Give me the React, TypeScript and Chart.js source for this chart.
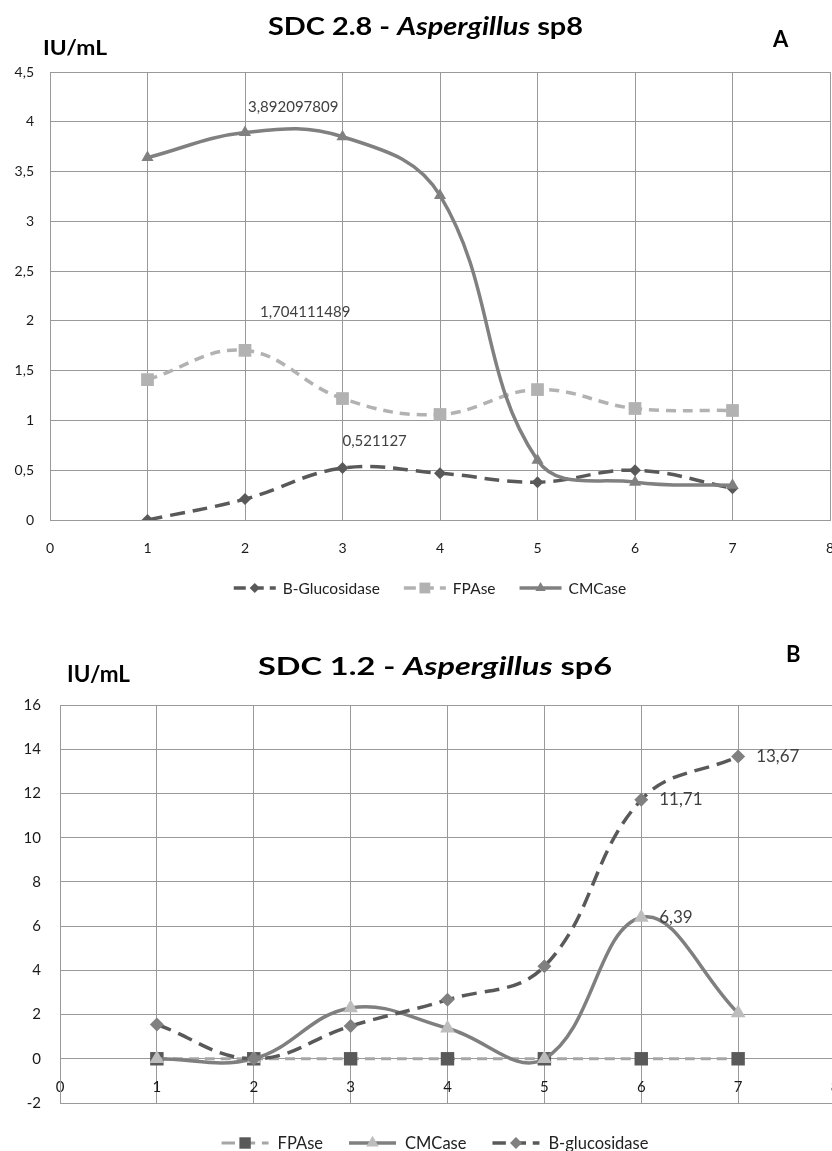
import React, { useEffect, useRef } from 'react';
import { Chart, registerables } from 'chart.js';
import { drawPoint } from 'chart.js/helpers';

Chart.register(...registerables);

const FONT = 'Lato, "Open Sans", sans-serif';

// ---------- Data: chart A (SDC 2.8 - Aspergillus sp8) ----------
const daysA = [1, 2, 3, 4, 5, 6, 7];
const bGlucosidaseA = [0, 0.21, 0.521127, 0.47, 0.38, 0.5, 0.32];
const fpaseA = [1.41, 1.704111489, 1.22, 1.06, 1.31, 1.12, 1.1];
const cmcaseA = [3.64, 3.892097809, 3.85, 3.26, 0.6, 0.38, 0.35];

// ---------- Data: chart B (SDC 1.2 - Aspergillus sp6) ----------
const daysB = [1, 2, 3, 4, 5, 6, 7];
const fpaseB = [0, 0, 0, 0, 0, 0, 0];
const cmcaseB = [0, 0, 2.3, 1.38, 0, 6.39, 2.07];
const bGlucosidaseB = [1.55, 0, 1.48, 2.67, 4.18, 11.71, 13.67];

const fmt = (v: number) => String(v).replace('.', ',');

type Series = {
  label: string;
  values: number[];
  color: string;
  pointColor: string;
  width: number;
  dash: number[];
  pointStyle: string;
  radius: number;
};

type Seg = { text: string; italic?: boolean };
type TextItem = { segs: Seg[]; x: number; y: number; size: number; align: 'left' | 'center'; w?: number };
type LabelSpec = { ds: number; idx: number; dx: number; dy: number };

type ChartSpec = {
  width: number;
  height: number;
  top: number;
  days: number[];
  series: Series[];
  xMin: number;
  xMax: number;
  yMin: number;
  yMax: number;
  yStep: number;
  padding: { top: number; right: number; bottom: number; left: number };
  yWidth: number;
  xHeight: number;
  xAtZero: boolean;
  tickSize: number;
  yPad: number;
  xPad: number;
  texts: TextItem[];
  legend: { cx: number; y: number; size: number; symW: number; gap: number; itemGap: number };
  labels: LabelSpec[];
  labelSize: number;
};

const seriesA: Series[] = [
  { label: 'B-Glucosidase', values: bGlucosidaseA, color: '#595959', pointColor: '#595959', width: 3.5, dash: [15, 8], pointStyle: 'rectRot', radius: 6 },
  { label: 'FPAse', values: fpaseA, color: '#b2b2b2', pointColor: '#b2b2b2', width: 3.5, dash: [10, 7], pointStyle: 'rect', radius: 9 },
  { label: 'CMCase', values: cmcaseA, color: '#808080', pointColor: '#808080', width: 3.5, dash: [], pointStyle: 'triangle', radius: 7 },
];

const seriesB: Series[] = [
  { label: 'FPAse', values: fpaseB, color: '#a6a6a6', pointColor: '#595959', width: 3, dash: [10, 6], pointStyle: 'rect', radius: 9.5 },
  { label: 'CMCase', values: cmcaseB, color: '#7f7f7f', pointColor: '#bdbdbd', width: 3.5, dash: [], pointStyle: 'triangle', radius: 8.5 },
  { label: 'B-glucosidase', values: bGlucosidaseB, color: '#595959', pointColor: '#808080', width: 3.5, dash: [15, 8], pointStyle: 'rectRot', radius: 7 },
];

const specA: ChartSpec = {
  width: 832,
  height: 610,
  top: 0,
  days: daysA,
  series: seriesA,
  xMin: 0,
  xMax: 8,
  yMin: 0,
  yMax: 4.5,
  yStep: 0.5,
  padding: { top: 72, right: 2, bottom: 50, left: 0 },
  yWidth: 50,
  xHeight: 40,
  xAtZero: false,
  tickSize: 14,
  yPad: 16,
  xPad: 20,
  texts: [
    { segs: [{ text: 'SDC 2.8 - ' }, { text: 'Aspergillus', italic: true }, { text: ' sp8' }], x: 425.5, y: 35, size: 24, align: 'center', w: 315 },
    { segs: [{ text: 'IU/mL' }], x: 43, y: 55, size: 21, align: 'left', w: 64 },
    { segs: [{ text: 'A' }], x: 773, y: 47, size: 22, align: 'left' },
  ],
  legend: { cx: 430, y: 588, size: 15.5, symW: 42, gap: 7, itemGap: 24 },
  labels: [
    { ds: 2, idx: 1, dx: 3, dy: -25 },
    { ds: 1, idx: 1, dx: 15, dy: -38 },
    { ds: 0, idx: 2, dx: 0, dy: -27 },
  ],
  labelSize: 15,
};

const specB: ChartSpec = {
  width: 840,
  height: 541,
  top: 610,
  days: daysB,
  series: seriesB,
  xMin: 0,
  xMax: 8,
  yMin: -2,
  yMax: 16,
  yStep: 2,
  padding: { top: 95, right: 5, bottom: 48, left: 0 },
  yWidth: 60,
  xHeight: 0,
  xAtZero: true,
  tickSize: 15,
  yPad: 19,
  xPad: 19,
  texts: [
    { segs: [{ text: 'SDC 1.2 - ' }, { text: 'Aspergillus', italic: true }, { text: ' sp6' }], x: 435, y: 65, size: 25, align: 'center', w: 354 },
    { segs: [{ text: 'IU/mL' }], x: 67, y: 72, size: 23, align: 'left', w: 63 },
    { segs: [{ text: 'B' }], x: 786, y: 52, size: 22, align: 'left' },
  ],
  legend: { cx: 435, y: 533, size: 16.5, symW: 47, gap: 9, itemGap: 26 },
  labels: [
    { ds: 2, idx: 6, dx: 18, dy: 0 },
    { ds: 2, idx: 5, dx: 18, dy: 0 },
    { ds: 1, idx: 5, dx: 18, dy: 0 },
  ],
  labelSize: 17,
};

function makeDecor(spec: ChartSpec) {
  return {
    id: 'decor',
    afterDatasetsDraw(chart: any) {
      const ctx: CanvasRenderingContext2D = chart.ctx;
      ctx.save();
      ctx.font = `${spec.labelSize}px ${FONT}`;
      ctx.fillStyle = '#404040';
      ctx.textAlign = 'left';
      ctx.textBaseline = 'middle';
      spec.labels.forEach((l) => {
        const meta = chart.getDatasetMeta(l.ds);
        const pt = meta.data[l.idx];
        const v = spec.series[l.ds].values[l.idx];
        ctx.fillText(fmt(v), pt.x + l.dx, pt.y + l.dy);
      });
      ctx.restore();
    },
    afterDraw(chart: any) {
      const ctx: CanvasRenderingContext2D = chart.ctx;
      ctx.save();
      // texts (titles, unit, panel letter)
      spec.texts.forEach((t) => {
        ctx.fillStyle = '#000';
        ctx.textBaseline = 'alphabetic';
        ctx.textAlign = 'left';
        const fonts = t.segs.map((s) => `${s.italic ? 'italic ' : ''}bold ${t.size}px ${FONT}`);
        const widths = t.segs.map((s, i) => {
          ctx.font = fonts[i];
          return ctx.measureText(s.text).width;
        });
        const natural = widths.reduce((a, b) => a + b, 0);
        const total = t.w ?? natural;
        const sx = total / natural;
        const x0 = t.align === 'center' ? t.x - total / 2 : t.x;
        ctx.save();
        ctx.translate(x0, t.y);
        ctx.scale(sx, 1);
        let x = 0;
        t.segs.forEach((s, i) => {
          ctx.font = fonts[i];
          ctx.fillText(s.text, x, 0);
          x += widths[i];
        });
        ctx.restore();
      });
      // legend
      const lg = spec.legend;
      ctx.font = `${lg.size}px ${FONT}`;
      const tw = spec.series.map((s) => ctx.measureText(s.label).width);
      const total = tw.reduce((a, w) => a + lg.symW + lg.gap + w, 0) + lg.itemGap * (spec.series.length - 1);
      let x = lg.cx - total / 2;
      spec.series.forEach((s, i) => {
        ctx.strokeStyle = s.color;
        ctx.lineWidth = s.width;
        ctx.setLineDash(s.dash.length ? [lg.symW / 3.5, lg.symW / 7] : []);
        ctx.beginPath();
        ctx.moveTo(x, lg.y);
        ctx.lineTo(x + lg.symW, lg.y);
        ctx.stroke();
        ctx.setLineDash([]);
        ctx.fillStyle = s.pointColor;
        drawPoint(ctx, { pointStyle: s.pointStyle as any, radius: s.radius * 0.85, rotation: 0, borderWidth: 0 } as any, x + lg.symW / 2, lg.y);
        ctx.fillStyle = '#222';
        ctx.textAlign = 'left';
        ctx.textBaseline = 'middle';
        ctx.font = `${lg.size}px ${FONT}`;
        ctx.fillText(s.label, x + lg.symW + lg.gap, lg.y + 1);
        x += lg.symW + lg.gap + tw[i] + lg.itemGap;
      });
      ctx.restore();
    },
  };
}

function LineChart({ spec }: { spec: ChartSpec }) {
  const ref = useRef<HTMLCanvasElement | null>(null);
  useEffect(() => {
    const canvas = ref.current;
    if (!canvas) return;
    const n = spec.series.length;
    const datasets = spec.series.map((s, i) => ({
      label: s.label,
      data: spec.days.map((d, j) => ({ x: d, y: s.values[j] })),
      borderColor: s.color,
      backgroundColor: s.pointColor,
      borderWidth: s.width,
      borderDash: s.dash,
      pointStyle: s.pointStyle,
      pointRadius: s.radius,
      pointHoverRadius: s.radius,
      pointBackgroundColor: s.pointColor,
      pointBorderColor: s.pointColor,
      pointBorderWidth: 0,
      tension: 0.4,
      fill: false,
      order: n - i,
    }));
    const gridColor = '#9a9a9a';
    const chart = new Chart(canvas, {
      type: 'line',
      data: { datasets } as any,
      plugins: [makeDecor(spec) as any],
      options: {
        animation: false,
        responsive: false,
        devicePixelRatio: 1,
        layout: { padding: spec.padding, autoPadding: false },
        plugins: { legend: { display: false }, tooltip: { enabled: false }, title: { display: false } },
        scales: {
          x: {
            type: 'linear',
            min: spec.xMin,
            max: spec.xMax,
            position: spec.xAtZero ? ({ y: 0 } as any) : 'bottom',
            grid: { color: gridColor, lineWidth: 1, drawTicks: false },
            border: { color: gridColor, width: 1 },
            ticks: {
              stepSize: 1,
              autoSkip: false,
              maxRotation: 0,
              padding: spec.xPad,
              color: '#1a1a1a',
              font: { family: FONT, size: spec.tickSize },
              callback: (v: any) => fmt(Number(v)),
            },
            afterFit: (scale: any) => {
              scale.height = spec.xHeight;
              scale.paddingLeft = 0;
              scale.paddingRight = 0;
            },
          },
          y: {
            type: 'linear',
            min: spec.yMin,
            max: spec.yMax,
            grid: { color: gridColor, lineWidth: 1, drawTicks: false },
            border: { color: gridColor, width: 1 },
            ticks: {
              stepSize: spec.yStep,
              autoSkip: false,
              padding: spec.yPad,
              color: '#1a1a1a',
              font: { family: FONT, size: spec.tickSize },
              callback: (v: any) => fmt(Number(v)),
            },
            afterFit: (scale: any) => {
              scale.width = spec.yWidth;
            },
          },
        },
      } as any,
    });
    return () => chart.destroy();
  }, [spec]);
  return (
    <canvas
      ref={ref}
      width={spec.width}
      height={spec.height}
      style={{ position: 'absolute', left: 0, top: spec.top, width: spec.width, height: spec.height, display: 'block' }}
    />
  );
}

export default function App() {
  return (
    <div
      style={{
        position: 'absolute',
        left: 0,
        top: 0,
        width: 832,
        height: 1151,
        overflow: 'hidden',
        background: '#fff',
      }}
    >
      <LineChart spec={specA} />
      <LineChart spec={specB} />
    </div>
  );
}
